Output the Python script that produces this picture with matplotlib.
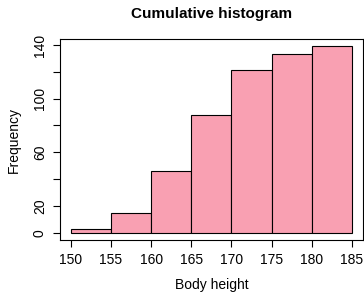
import matplotlib.pyplot as plt
import numpy as np

plt.rcParams['font.family'] = ['Liberation Sans', 'DejaVu Sans']

# cumulative counts per 5 cm bin
bin_edges = [150, 155, 160, 165, 170, 175, 180, 185]
cum_counts = [3, 15, 46, 88, 121, 133, 139]
x_ticks = [150, 155, 160, 165, 170, 175, 180, 185]
y_ticks = [0, 20, 40, 60, 80, 100, 120, 140]
y_labels = ['0', '20', '', '60', '', '100', '', '140']

fig = plt.figure(figsize=(3.64, 2.92), dpi=100)
ax = fig.add_axes([59.5 / 364, (292 - 240.2) / 292, (363.3 - 59.5) / 364, (240.2 - 38.9) / 292])

left = np.array(bin_edges[:-1])
width = np.diff(bin_edges)
ax.bar(left, cum_counts, width=width, align='edge', color='#F9A0B2',
       edgecolor='black', linewidth=0.8)

# R-style 4% padding
xr = bin_edges[-1] - bin_edges[0]
yr = max(cum_counts)
ax.set_xlim(bin_edges[0] - 0.04 * xr, bin_edges[-1] + 0.04 * xr)
ax.set_ylim(-0.04 * yr, yr * 1.04)

ax.set_xticks(x_ticks)
ax.set_yticks(y_ticks)
ax.set_yticklabels(y_labels, rotation=90, va='center')
ax.tick_params(length=5, width=0.8, labelsize=10, pad=4)
ax.tick_params(axis='y', pad=4)
for s in ax.spines.values():
    s.set_linewidth(0.8)

ax.set_title('Cumulative histogram', fontsize=11, fontweight='bold', pad=15)
ax.set_xlabel('Body height', fontsize=10, labelpad=8)
ax.set_ylabel('Frequency', fontsize=10, labelpad=9)

fig.savefig('out.png', dpi=100)
